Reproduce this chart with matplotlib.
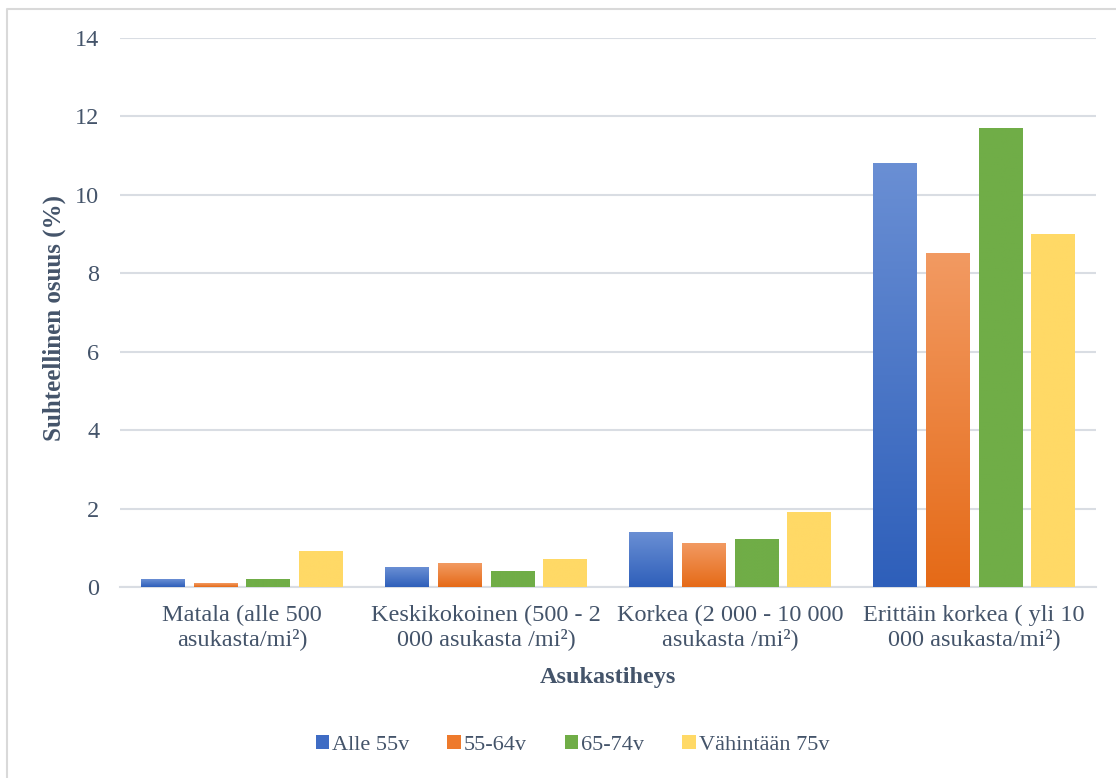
import numpy as np
import matplotlib
matplotlib.use('Agg')
import matplotlib.pyplot as plt
from matplotlib.colors import LinearSegmentedColormap
from matplotlib.patches import Patch
from matplotlib.lines import Line2D

# Data
categories = ['Matala (alle 500\nasukasta/mi²)',
              'Keskikokoinen (500 - 2\n000 asukasta /mi²)',
              'Korkea (2 000 - 10 000\nasukasta /mi²)',
              'Erittäin korkea ( yli 10\n000 asukasta/mi²)']
series_names = ['Alle 55v', '55-64v', '65-74v', 'Vähintään 75v']
alle_55 = [0.2, 0.5, 1.4, 10.8]
v55_64 = [0.1, 0.6, 1.1, 8.5]
v65_74 = [0.2, 0.4, 1.2, 11.7]
yli_75 = [0.9, 0.7, 1.9, 9.0]
yticks = [0, 2, 4, 6, 8, 10, 12, 14]

# (top colour, bottom colour) per series -> Excel-like gradient fill
colors = [('#6a8fd4', '#2e5fba'),
          ('#f29a62', '#e56a17'),
          ('#70ad47', '#70ad47'),
          ('#ffd966', '#ffd966')]
legend_colors = ['#3f6cc4', '#ee7a2c', '#70ad47', '#ffd966']

text_color = '#44546a'
grid_color = '#d9dde3'
plt.rcParams['font.family'] = ['Liberation Serif', 'DejaVu Serif']

fig = plt.figure(figsize=(11.16, 7.78), dpi=100)
ax = fig.add_axes([0.1075, 0.2455, 0.8746, 0.7057])

x = np.arange(len(categories))
width = 0.18
step = 0.217
all_series = [alle_55, v55_64, v65_74, yli_75]

for i, vals in enumerate(all_series):
    offs = (i - 1.5) * step
    top_c, bot_c = colors[i]
    cmap = LinearSegmentedColormap.from_list(f'g{i}', [bot_c, top_c])
    for xi, v in zip(x, vals):
        x0 = xi + offs - width / 2
        grad = np.linspace(0, 1, 256).reshape(-1, 1)
        ax.imshow(grad, cmap=cmap, origin='lower', aspect='auto',
                  extent=[x0, x0 + width, 0, v], zorder=3)

ax.set_xlim(-0.5, len(categories) - 0.5)
ax.set_ylim(0, 14)
ax.set_yticks(yticks)
ax.set_yticklabels([str(t) for t in yticks], fontsize=17.5, color=text_color)
ax.set_xticks(x)
ax.set_xticklabels(categories, fontsize=17.5, color=text_color, linespacing=1.1)
ax.tick_params(axis='both', length=0)
ax.tick_params(axis='y', pad=15)
ax.tick_params(axis='x', pad=13)
ax.grid(axis='y', color=grid_color, linewidth=1.5, zorder=0)
ax.set_axisbelow(True)
for s in ['top', 'right', 'left']:
    ax.spines[s].set_visible(False)
ax.spines['bottom'].set_color(grid_color)
ax.spines['bottom'].set_linewidth(1.5)

ax.set_ylabel('Suhteellinen osuus (%)', fontsize=18, fontweight='bold',
              color=text_color, labelpad=5)
ax.yaxis.set_label_coords(-0.0555, 0.49)
ax.set_xlabel('Asukastiheys', fontsize=17.5, fontweight='bold',
              color=text_color, labelpad=12)

handles = [Patch(facecolor=c, edgecolor='none', label=n)
           for c, n in zip(legend_colors, series_names)]
leg = fig.legend(handles=handles, loc='center', bbox_to_anchor=(0.513, 0.042), ncol=4,
                 frameon=False, fontsize=16, handlelength=0.6, handleheight=0.6,
                 handletextpad=0.15, columnspacing=1.7)
for t in leg.get_texts():
    t.set_color(text_color)

# light border of the chart area (only left and top edges show in the crop)
fig.lines.append(Line2D([0.0065, 0.0065, 1.0], [0.0, 0.9885, 0.9885],
                        transform=fig.transFigure, color='#d9d9d9', linewidth=1.5))

fig.savefig('out.png', dpi=100)
